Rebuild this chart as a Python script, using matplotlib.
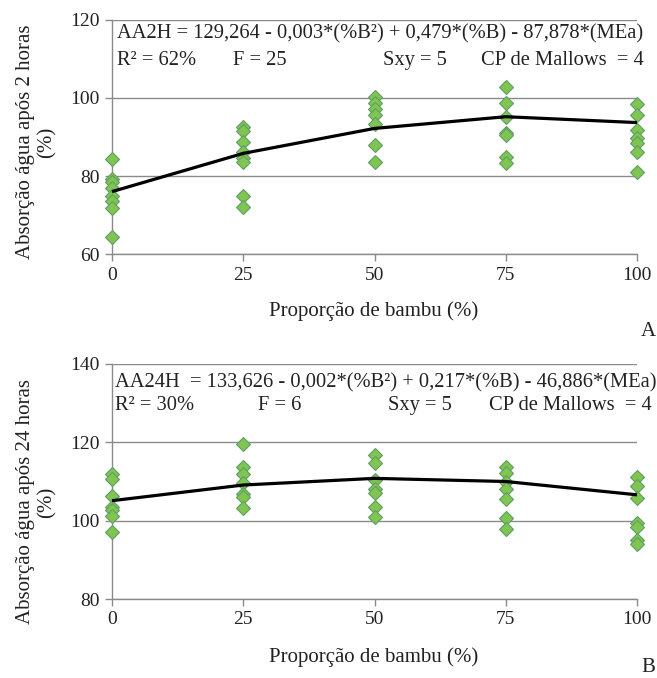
import matplotlib
matplotlib.use("Agg")
import matplotlib.pyplot as plt

plt.rcParams['font.family'] = ['Liberation Serif', 'DejaVu Serif']

# ---- data ----
bamboo = [0, 25, 50, 75, 100]

aa2h_obs = {
    0:   [84.3, 79.2, 78.5, 76.8, 74.9, 73.5, 71.7, 64.4],
    25:  [92.5, 91.5, 88.8, 86.2, 84.5, 83.7, 74.9, 72.1],
    50:  [100.2, 98.6, 97.1, 95.6, 93.3, 87.9, 83.7],
    75:  [102.7, 98.8, 95.1, 91.1, 90.5, 85.0, 83.3],
    100: [98.5, 95.6, 91.8, 89.7, 88.4, 86.2, 81.1],
}
aa2h_fit = [76.0, 85.8, 92.2, 95.2, 93.7]

aa24h_obs = {
    0:   [111.9, 110.6, 106.4, 103.6, 102.7, 101.2, 97.0],
    25:  [119.6, 113.6, 111.9, 109.5, 106.8, 106.1, 103.2],
    50:  [116.8, 114.6, 110.4, 108.0, 107.1, 103.6, 101.0],
    75:  [113.8, 112.2, 110.0, 108.0, 105.5, 100.6, 97.8],
    100: [111.1, 108.9, 105.9, 99.5, 98.5, 95.1, 94.0],
}
aa24h_fit = [105.1, 109.1, 110.8, 110.0, 106.6]

W, H = 657, 678
fig = plt.figure(figsize=(W / 100, H / 100), dpi=100)

def fx(px):
    return px / W

def fy(py):
    return 1 - py / H

GRAY = '#8a8a8a'
FACE = '#80c451'
EDGE = '#5f9e66'

def make_panel(rect, obs, fit, ylim, yticks):
    ax = fig.add_axes(rect)
    for xv in bamboo:
        vals = obs[xv]
        ax.plot([xv] * len(vals), vals, linestyle='none', marker='D',
                markersize=7.5, markerfacecolor=FACE, markeredgecolor=EDGE,
                markeredgewidth=0.8, clip_on=False, zorder=3)
    ax.plot(bamboo, fit, color='black', linewidth=2.3, zorder=4, clip_on=False,
            solid_capstyle='butt')
    ax.set_xlim(0, 100)
    ax.set_ylim(*ylim)
    ax.set_xticks(bamboo)
    ax.set_yticks(yticks)
    ax.grid(axis='y', color=GRAY, linewidth=1.0)
    ax.set_axisbelow(True)
    for s in ['top', 'right']:
        ax.spines[s].set_visible(False)
    for s in ['left', 'bottom']:
        ax.spines[s].set_color(GRAY)
        ax.spines[s].set_linewidth(1.0)
    ax.tick_params(axis='both', direction='out', length=5, width=1.0,
                   color=GRAY, labelsize=14, labelcolor='#222222', pad=4)
    return ax

ax1 = make_panel([fx(112), fy(254), fx(637) - fx(112), fy(20) - fy(254)],
                 aa2h_obs, aa2h_fit, (60, 120), [60, 80, 100, 120])
ax2 = make_panel([fx(112), fy(599), fx(637) - fx(112), fy(364) - fy(599)],
                 aa24h_obs, aa24h_fit, (80, 140), [80, 100, 120, 140])

TXT = dict(fontsize=14.8, color='#222222', va='baseline')

# panel A texts
fig.text(fx(117), fy(38), 'AA2H = 129,264 - 0,003*(%B²) + 0,479*(%B) - 87,878*(MEa)', ha='left', **TXT)
fig.text(fx(117), fy(65), 'R² = 62%', ha='left', **TXT)
fig.text(fx(233), fy(65), 'F = 25', ha='left', **TXT)
fig.text(fx(383), fy(65), 'Sxy = 5', ha='left', **TXT)
fig.text(fx(644), fy(65), 'CP de Mallows  = 4', ha='right', **TXT)

# panel B texts
fig.text(fx(115), fy(387), 'AA24H  = 133,626 - 0,002*(%B²) + 0,217*(%B) - 46,886*(MEa)', ha='left', **TXT)
fig.text(fx(115), fy(410), 'R² = 30%', ha='left', **TXT)
fig.text(fx(258), fy(410), 'F = 6', ha='left', **TXT)
fig.text(fx(388), fy(410), 'Sxy = 5', ha='left', **TXT)
fig.text(fx(652), fy(410), 'CP de Mallows  = 4', ha='right', **TXT)

# axis labels
LBL = dict(fontsize=15, color='#222222')
fig.text(fx(36), fy(142), 'Absorção água após 2 horas\n(%)', rotation=90,
         ha='center', va='center', multialignment='center', linespacing=1.15, **LBL)
fig.text(fx(36), fy(502), 'Absorção água após 24 horas\n(%)', rotation=90,
         ha='center', va='center', multialignment='center', linespacing=1.15, **LBL)
fig.text(fx(374), fy(311), 'Proporção de bambu (%)', ha='center', va='center', **LBL)
fig.text(fx(374), fy(657), 'Proporção de bambu (%)', ha='center', va='center', **LBL)

fig.text(fx(648), fy(331), 'A', ha='center', va='center', **LBL)
fig.text(fx(648), fy(667), 'B', ha='center', va='center', **LBL)

fig.savefig('out.png', dpi=100, facecolor='white')
